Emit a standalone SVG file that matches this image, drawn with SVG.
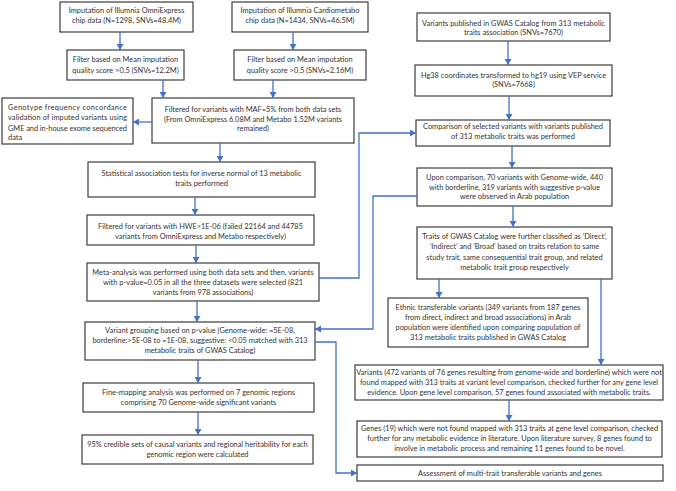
<svg xmlns="http://www.w3.org/2000/svg" width="676" height="491" viewBox="0 0 676 491">
<defs>
<marker id="ah" markerUnits="userSpaceOnUse" markerWidth="7" markerHeight="7" refX="6" refY="3.5" orient="auto">
<path d="M0,0 L6,3.5 L0,7 z" fill="#4472C4"/>
</marker>
<style>
rect.b{fill:#fff;stroke:#3c3c3c;stroke-width:1.2}
text{font-family:Lato,"Liberation Sans",sans-serif;font-size:7.4px;fill:#333}
.c{text-anchor:middle}
.cn{fill:none;stroke:#4472C4;stroke-width:1.3}
</style>
</defs>
<rect width="676" height="491" fill="#fff"/>

<g id="n-omni">
<rect class="b" x="60" y="2" width="133" height="30"/>
<text class="c" x="126.5" y="12.5">Imputation of Illumnia OmniExpress</text>
<text class="c" x="126.5" y="23">chip data (N=1298, SNVs=48.4M)</text>
</g>
<g id="n-cardio">
<rect class="b" x="232" y="2" width="136" height="30"/>
<text class="c" x="300" y="12.5">Imputation of Illumnia Cardiometabo</text>
<text class="c" x="300" y="23">chip data (N=1434, SNVs=46.5M)</text>
</g>
<g id="n-filt1">
<rect class="b" x="67" y="50" width="117" height="30"/>
<text class="c" x="125.5" y="62">Filter based on Mean imputation</text>
<text class="c" x="125.5" y="72.5">quality score &gt;0.5 (SNVs=12.2M)</text>
</g>
<g id="n-filt2">
<rect class="b" x="234" y="50" width="132" height="30"/>
<text class="c" x="300" y="62">Filter based on Mean imputation</text>
<text class="c" x="300" y="72.5">quality score &gt;0.5 (SNVs=2.16M)</text>
</g>
<g id="n-maf">
<rect class="b" x="152" y="98" width="202" height="45"/>
<text class="c" x="253" y="111.5">Filtered for variants with MAF=5% from both data sets</text>
<text class="c" x="253" y="121.5">(From OmniExpress 6.08M and Metabo 1.52M variants</text>
<text class="c" x="253" y="131">remained)</text>
</g>
<g id="n-geno">
<rect class="b" x="2" y="98" width="131" height="46"/>
<text x="8" y="109.5" textLength="119" lengthAdjust="spacing">Genotype frequency concordance</text>
<text x="8" y="120" textLength="119" lengthAdjust="spacing">validation of imputed variants using</text>
<text x="8" y="130.5" textLength="119" lengthAdjust="spacing">GME and in-house exome sequenced</text>
<text x="8" y="140">data</text>
</g>
<g id="n-stat">
<rect class="b" x="88" y="162" width="227" height="35"/>
<text class="c" x="201.5" y="175.5">Statistical association tests for inverse normal of 13 metabolic</text>
<text class="c" x="201.5" y="185.5">traits performed</text>
</g>
<g id="n-hwe">
<rect class="b" x="87" y="215" width="227" height="30"/>
<text class="c" x="200.5" y="228.5">Filtered for variants with HWE&gt;1E-06 (failed 22164 and 44785</text>
<text class="c" x="200.5" y="239">variants from OmniExpress and Metabo respectively)</text>
</g>
<g id="n-meta">
<rect class="b" x="87" y="263" width="232" height="38"/>
<text class="c" x="203" y="275">Meta-analysis was performed using both data sets and then, variants</text>
<text class="c" x="203" y="285">with p-value=0.05 in all the three datasets were selected (821</text>
<text class="c" x="203" y="295">variants from 978 associations)</text>
</g>
<g id="n-group">
<rect class="b" x="85" y="322" width="230" height="38"/>
<text class="c" x="200" y="332.5">Variant grouping based on p-value (Genome-wide: =5E-08,</text>
<text class="c" x="200" y="342.5">borderline:&gt;5E-08 to =1E-08, suggestive: &lt;0.05 matched with 313</text>
<text class="c" x="200" y="353">metabolic traits of GWAS Catalog)</text>
</g>
<g id="n-fine">
<rect class="b" x="83" y="383" width="231" height="29"/>
<text class="c" x="198.5" y="395">Fine-mapping analysis was performed on 7 genomic regions</text>
<text class="c" x="198.5" y="405">comprising 70 Genome-wide significant variants</text>
</g>
<g id="n-cred">
<rect class="b" x="82" y="435" width="231" height="29"/>
<text class="c" x="197.5" y="446.5">95% credible sets of causal variants and regional heritability for each</text>
<text class="c" x="197.5" y="457">genomic region were calculated</text>
</g>

<g id="n-gwas">
<rect class="b" x="417" y="13" width="193" height="28"/>
<text class="c" x="513.5" y="25.5">Variants published in GWAS Catalog from 313 metabolic</text>
<text class="c" x="513.5" y="35">traits association (SNVs=7670)</text>
</g>
<g id="n-hg38">
<rect class="b" x="415" y="65" width="197" height="31"/>
<text class="c" x="513.5" y="77.5">Hg38 coordinates transformed to hg19 using VEP service</text>
<text class="c" x="513.5" y="87">(SNVs=7668)</text>
</g>
<g id="n-comp">
<rect class="b" x="416" y="120" width="194" height="26"/>
<text class="c" x="513" y="129">Comparison of selected variants with variants published</text>
<text class="c" x="513" y="138.5">of 313 metabolic traits was performed</text>
</g>
<g id="n-upon">
<rect class="b" x="417" y="168" width="195" height="38"/>
<text class="c" x="514.5" y="180">Upon comparison, 70 variants with Genome-wide, 440</text>
<text class="c" x="514.5" y="189.5">with borderline, 319 variants with suggestive p-value</text>
<text class="c" x="514.5" y="199">were observed in Arab population</text>
</g>
<g id="n-traits">
<rect class="b" x="417" y="227" width="195" height="52"/>
<text class="c" x="514.5" y="239">Traits of GWAS Catalog were further classified as ‘Direct’,</text>
<text class="c" x="514.5" y="249">‘Indirect’ and ‘Broad’ based on traits relation to same</text>
<text class="c" x="514.5" y="259.5">study trait, same consequential trait group, and related</text>
<text class="c" x="514.5" y="270">metabolic trait group respectively</text>
</g>
<g id="n-ethnic">
<rect class="b" x="388" y="298" width="200" height="49"/>
<text class="c" x="488" y="309.5">Ethnic transferable variants (349 variants from 187 genes</text>
<text class="c" x="488" y="319.5">from direct, indirect and broad associations) in Arab</text>
<text class="c" x="488" y="329.5">population were identified upon comparing population of</text>
<text class="c" x="488" y="340">313 metabolic traits published in GWAS Catalog</text>
</g>
<g id="n-var472">
<rect class="b" x="355" y="365" width="308" height="35"/>
<text class="c" x="509" y="375">Variants (472 variants of 76 genes resulting from genome-wide and borderline) which were not</text>
<text class="c" x="509" y="385">found mapped with 313 traits at variant level comparison, checked further for any gene level</text>
<text class="c" x="509" y="395">evidence. Upon gene level comparison, 57 genes found associated with metabolic traits.</text>
</g>
<g id="n-genes">
<rect class="b" x="357" y="421" width="305" height="36"/>
<text class="c" x="509.5" y="431">Genes (19) which were not found mapped with 313 traits at gene level comparison, checked</text>
<text class="c" x="509.5" y="441">further for any metabolic evidence in literature. Upon literature survey, 8 genes found to</text>
<text class="c" x="509.5" y="450.5">involve in metabolic process and remaining 11 genes found to be novel.</text>
</g>
<g id="n-assess">
<rect class="b" x="357" y="465" width="306" height="16"/>
<text class="c" x="510" y="475.5">Assessment of multi-trait transferable variants and genes</text>
</g>

<g id="connectors" class="cn">
<line x1="120" y1="32" x2="120" y2="50" marker-end="url(#ah)"/>
<line x1="293" y1="32" x2="293" y2="50" marker-end="url(#ah)"/>
<line x1="163" y1="80" x2="163" y2="98" marker-end="url(#ah)"/>
<line x1="273" y1="80" x2="273" y2="98" marker-end="url(#ah)"/>
<line x1="152" y1="122" x2="133" y2="122" marker-end="url(#ah)"/>
<line x1="220" y1="143" x2="220" y2="162" marker-end="url(#ah)"/>
<line x1="195" y1="197" x2="195" y2="215" marker-end="url(#ah)"/>
<line x1="196" y1="245" x2="196" y2="263" marker-end="url(#ah)"/>
<line x1="197" y1="301" x2="197" y2="322" marker-end="url(#ah)"/>
<line x1="198" y1="360" x2="198" y2="383" marker-end="url(#ah)"/>
<line x1="198" y1="412" x2="198" y2="435" marker-end="url(#ah)"/>
<line x1="508" y1="41" x2="508" y2="65" marker-end="url(#ah)"/>
<line x1="509" y1="96" x2="509" y2="120" marker-end="url(#ah)"/>
<line x1="512" y1="146" x2="512" y2="168" marker-end="url(#ah)"/>
<line x1="513" y1="206" x2="513" y2="227" marker-end="url(#ah)"/>
<line x1="439" y1="279" x2="439" y2="298" marker-end="url(#ah)"/>
<line x1="601" y1="279" x2="601" y2="365" marker-end="url(#ah)"/>
<line x1="509" y1="400" x2="509" y2="421" marker-end="url(#ah)"/>
<polyline points="319,278 359,278 359,133 416,133" marker-end="url(#ah)"/>
<polyline points="417,196 373,196 373,329 315,329" marker-end="url(#ah)"/>
<polyline points="315,342 336,342 336,473 357,473" marker-end="url(#ah)"/>
</g>
</svg>
